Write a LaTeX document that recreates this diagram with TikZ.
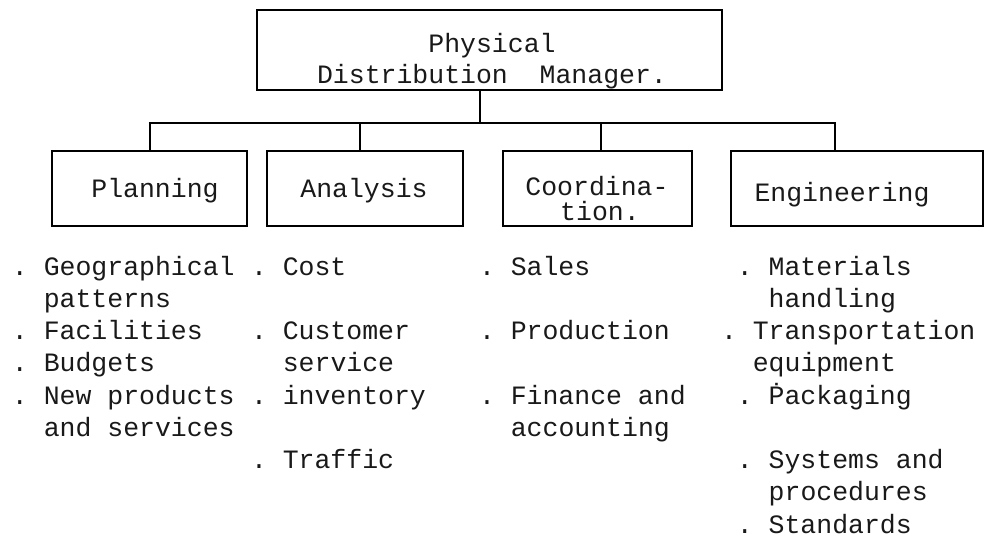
\documentclass[tikz,border=0pt]{standalone}
\usepackage{fontspec}
\setmainfont{Liberation Mono}
\begin{document}
\begin{tikzpicture}[x=1pt,y=-1pt,
  every node/.style={inner sep=0pt, outer sep=0pt, text=black!90},
  txt/.style={font=\fontsize{26.5}{32.25}\selectfont},
  frame/.style={draw, line width=2.2pt, rectangle},
  wire/.style={line width=2.2pt},
  list/.style={txt, anchor=base west}]
\useasboundingbox (0,0) rectangle (986,539);
\newcommand\dotitem{\makebox[1.2em][l]{.}}
\newcommand\indentitem{\hspace*{1.2em}}

% manager box
\node[frame, minimum width=465pt, minimum height=80pt] (top) at (489.5,50) {};
\node[txt, anchor=base] (topA) at (492,52) {Physical};
\node[txt, anchor=base] (topB) at (492,83) {Distribution~~Manager.};

% function boxes
\node[frame, minimum width=195pt, minimum height=75pt] (plan) at (149.5,188.5) {};
\node[frame, minimum width=196pt, minimum height=75pt] (anal) at (365,188.5) {};
\node[frame, minimum width=189pt, minimum height=75pt] (coor) at (597.5,188.5) {};
\node[frame, minimum width=252pt, minimum height=75pt] (engi) at (857,188.5) {};

\node[txt, anchor=base] (planT) at (155,197) {Planning};
\node[txt, anchor=base] (analT) at (364,197) {Analysis};
\node[txt, anchor=base] (coorA) at (597,195) {Coordina-};
\node[txt, anchor=base] (coorB) at (600,220) {tion.};
\node[txt, anchor=base] (engiT) at (842,201) {Engineering};

% connecting tree
\coordinate (bus) at (480,123);
\coordinate (j1) at (150,123);
\coordinate (j2) at (360,123);
\coordinate (j3) at (601,123);
\coordinate (j4) at (835,123);
\draw[wire] (bus |- top.south) -- (bus);
\draw[wire] ([xshift=-1.1pt]j1) -- ([xshift=1.1pt]j4);
\draw[wire] (j1) -- (j1 |- plan.north);
\draw[wire] (j2) -- (j2 |- anal.north);
\draw[wire] (j3) -- (j3 |- coor.north);
\draw[wire] (j4) -- (j4 |- engi.north);

% duty lists
\node[list] (planL) at (12,275) {\begin{tabular}[t]{@{}l@{}}
\dotitem Geographical\\
\indentitem patterns\\
\dotitem Facilities\\
\dotitem Budgets\\
\dotitem New products\\
\indentitem and services
\end{tabular}};
\node[list] (analL) at (251,275) {\begin{tabular}[t]{@{}l@{}}
\dotitem Cost\\
\\
\dotitem Customer\\
\indentitem service\\
\dotitem inventory\\
\\
\dotitem Traffic
\end{tabular}};
\node[list] (coorL) at (479,275) {\begin{tabular}[t]{@{}l@{}}
\dotitem Sales\\
\\
\dotitem Production\\
\\
\dotitem Finance and\\
\indentitem accounting
\end{tabular}};
\node[list] (engiL) at (721,275) {\begin{tabular}[t]{@{}l@{}}
\hspace*{0.6em}\dotitem Materials\\
\hspace*{0.6em}\indentitem handling\\
\dotitem Transportation\\
\indentitem equipment\\
\hspace*{0.6em}\dotitem Ṗackaging\\
\\
\hspace*{0.6em}\dotitem Systems and\\
\hspace*{0.6em}\indentitem procedures\\
\hspace*{0.6em}\dotitem Standards
\end{tabular}};
\end{tikzpicture}
\end{document}
